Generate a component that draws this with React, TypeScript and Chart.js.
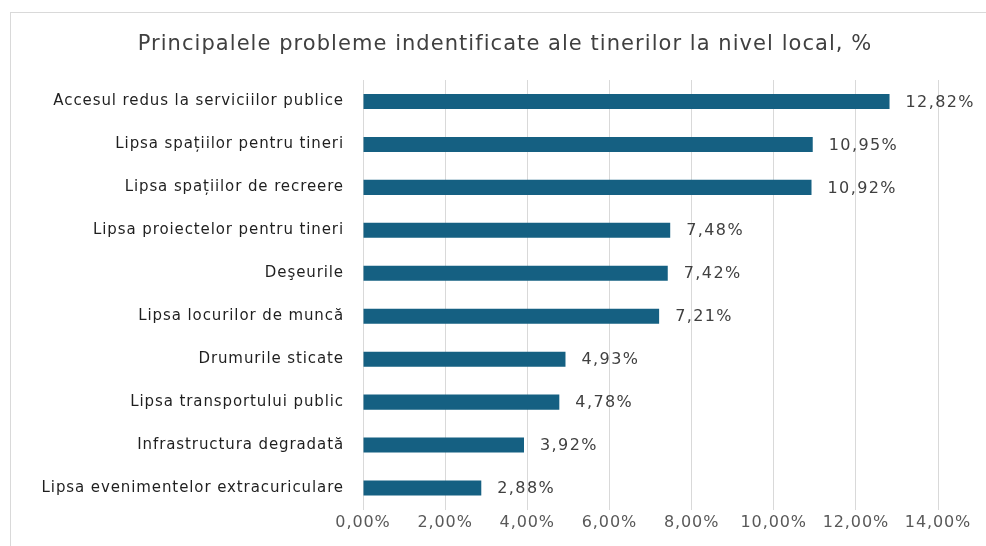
import React, { useEffect, useRef } from "react";
import { Chart, registerables } from "chart.js";

Chart.register(...registerables);

const TITLE = "Principalele probleme indentificate ale tinerilor la nivel local, %";
const categories = [
  "Accesul redus la serviciilor publice",
  "Lipsa spațiilor pentru tineri",
  "Lipsa spațiilor de recreere",
  "Lipsa proiectelor pentru tineri",
  "Deşeurile",
  "Lipsa locurilor de muncă",
  "Drumurile sticate",
  "Lipsa transportului public",
  "Infrastructura degradată",
  "Lipsa evenimentelor extracuriculare",
];
const values = [12.82, 10.95, 10.92, 7.48, 7.42, 7.21, 4.93, 4.78, 3.92, 2.88];
const xMin = 0;
const xMax = 14;
const xStep = 2;

const FONT = "'DejaVu Sans', sans-serif";
const fmt = (v: number) => v.toFixed(2).replace(".", ",") + "%";

const framePlugin = {
  id: "frame",
  beforeDraw(chart: any) {
    const ctx = chart.ctx;
    ctx.save();
    ctx.strokeStyle = "#d9d9d9";
    ctx.lineWidth = 1;
    ctx.strokeRect(10.5, 12.5, 990, 560);
    ctx.font = `21px ${FONT}`;
    ctx.fillStyle = "#404040";
    ctx.textAlign = "center";
    ctx.textBaseline = "middle";
    (ctx as any).letterSpacing = "1.05px";
    ctx.fillText(TITLE, 505, 45);
    ctx.restore();
    (ctx as any).letterSpacing = "0.9px";
  },
  afterDraw(chart: any) {
    (chart.ctx as any).letterSpacing = "0px";
  },
};

const labelPlugin = {
  id: "barLabels",
  afterDatasetsDraw(chart: any) {
    const ctx = chart.ctx;
    const meta = chart.getDatasetMeta(0);
    ctx.save();
    ctx.font = `16px ${FONT}`;
    (ctx as any).letterSpacing = "1.4px";
    ctx.fillStyle = "#404040";
    ctx.textAlign = "left";
    ctx.textBaseline = "middle";
    meta.data.forEach((bar: any, i: number) => {
      ctx.fillText(fmt(values[i]), bar.x + 16, bar.y + 1);
    });
    ctx.restore();
  },
};

export default function App() {
  const ref = useRef<HTMLCanvasElement>(null);
  useEffect(() => {
    document.body.style.margin = "0";
    const chart = new Chart(ref.current!, {
      type: "bar",
      data: {
        labels: categories,
        datasets: [
          {
            data: values,
            backgroundColor: "#156082",
            categoryPercentage: 1,
            barPercentage: 0.35,
          },
        ],
      },
      options: {
        indexAxis: "y",
        animation: false,
        responsive: false,
        maintainAspectRatio: false,
        layout: { padding: { left: 0, right: 48, top: 80, bottom: 0 } },
        plugins: {
          legend: { display: false },
          tooltip: { enabled: false },
          title: { display: false },
        },
        scales: {
          x: {
            min: xMin,
            max: xMax,
            grid: { color: "#d9d9d9", drawTicks: false },
            border: { display: false },
            ticks: {
              stepSize: xStep,
              padding: 4,
              color: "#595959",
              font: { family: FONT, size: 16 },
              callback: (v: any) => fmt(Number(v)),
            },
            afterFit: (s: any) => {
              s.height = 36.5;
            },
          },
          y: {
            grid: { display: false, drawTicks: false },
            border: { display: false },
            ticks: {
              padding: 19,
              color: "#1f1f1f",
              font: { family: FONT, size: 15 },
            },
            afterFit: (s: any) => {
              s.width = 363;
            },
          },
        },
      },
      plugins: [framePlugin, labelPlugin],
    });
    return () => chart.destroy();
  }, []);
  return (
    <div style={{ width: 986, height: 546, background: "#fff" }}>
      <canvas ref={ref} width={986} height={546} style={{ display: "block" }} />
    </div>
  );
}
